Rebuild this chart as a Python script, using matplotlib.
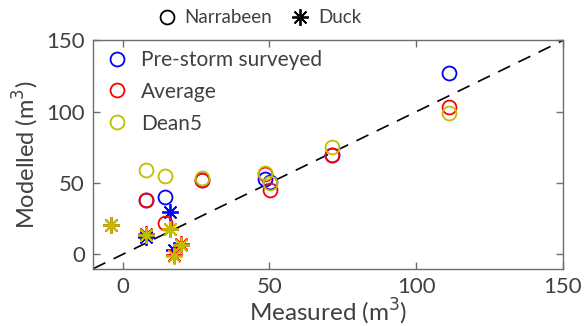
import matplotlib
matplotlib.use("Agg")
import matplotlib.pyplot as plt
from matplotlib.lines import Line2D

# Narrabeen (circles)
narr_measured = [111.3, 71.3, 50.2, 48.4, 27.0, 8.0, 14.5]
narr_prestorm = [127.0, 70.0, 50.5, 52.5, 52.0, 38.0, 40.5]
narr_average = [103.0, 70.0, 45.0, 56.0, 52.0, 38.0, 22.0]
narr_dean5 = [99.0, 75.0, 50.0, 57.0, 53.3, 59.0, 55.0]

# Duck (asterisks)
duck_measured = [-4.0, 8.0, 16.0, 20.0, 17.5]
duck_prestorm = [20.5, 12.0, 30.0, 6.5, 3.0]
duck_average = [20.5, 14.5, 17.5, 7.0, -0.5]
duck_dean5 = [20.5, 13.5, 17.5, 6.5, -1.0]

series_names = ["Pre-storm surveyed", "Average", "Dean5"]
series_colors = ["#0000FF", "#FF0000", "#BFBF00"]

ticks = [0, 50, 100, 150]
lims = [-10, 150]

plt.rcParams['font.family'] = ['Lato', 'DejaVu Sans']
text_col = "#404040"
frame_col = "#6e6e6e"

fig = plt.figure(figsize=(5.87, 3.26), dpi=100)
ax = fig.add_axes([0.159, 0.176, 0.800, 0.700])

ax.plot(lims, lims, color="black", linestyle=(0, (8, 5.5)), linewidth=1.2, zorder=1)

star = (8, 2, 0)
for nvals, dvals, col, name in zip([narr_prestorm, narr_average, narr_dean5],
                                   [duck_prestorm, duck_average, duck_dean5],
                                   series_colors, series_names):
    ax.plot(narr_measured, nvals, linestyle="none", marker="o", markersize=10,
            markerfacecolor="none", markeredgecolor=col, markeredgewidth=1.3,
            zorder=2)
    ax.plot(duck_measured, dvals, linestyle="none", marker=star, markersize=12,
            markeredgecolor=col, markeredgewidth=1.3, zorder=2)

ax.set_xlim(lims)
ax.set_ylim(lims)
ax.set_xticks(ticks)
ax.set_yticks(ticks)
ax.tick_params(direction="in", length=5, width=1, colors=frame_col,
               labelcolor=text_col, labelsize=16, top=True, right=True, pad=6)
for s in ax.spines.values():
    s.set_color(frame_col)
    s.set_linewidth(1.0)

ax.set_xlabel("Measured (m$^3$)", fontsize=17.5, color=text_col, labelpad=0)
ax.set_ylabel("Modelled (m$^3$)", fontsize=17, color=text_col, labelpad=4)

handles = [Line2D([], [], linestyle="none", marker="o", markersize=10,
                  markerfacecolor="none", markeredgecolor=c, markeredgewidth=1.3)
           for c in series_colors]
leg = ax.legend(handles, series_names, loc="upper left", frameon=False,
                fontsize=15, handletextpad=0.45, borderaxespad=0.1,
                labelspacing=0.57, handlelength=1.4, borderpad=0.35)
for t in leg.get_texts():
    t.set_color(text_col)

top_handles = [Line2D([], [], linestyle="none", marker="o", markersize=10,
                      markerfacecolor="none", markeredgecolor="black", markeredgewidth=1.3),
               Line2D([], [], linestyle="none", marker=star, markersize=12,
                      markeredgecolor="black", markeredgewidth=1.3)]
leg2 = fig.legend(top_handles, ["Narrabeen", "Duck"], loc="center",
                  bbox_to_anchor=(0.44, 0.945), ncol=2, frameon=False,
                  fontsize=13.5, handletextpad=0.35, columnspacing=0.9,
                  handlelength=1.2)
for t in leg2.get_texts():
    t.set_color(text_col)

fig.savefig("out.png", dpi=100)
